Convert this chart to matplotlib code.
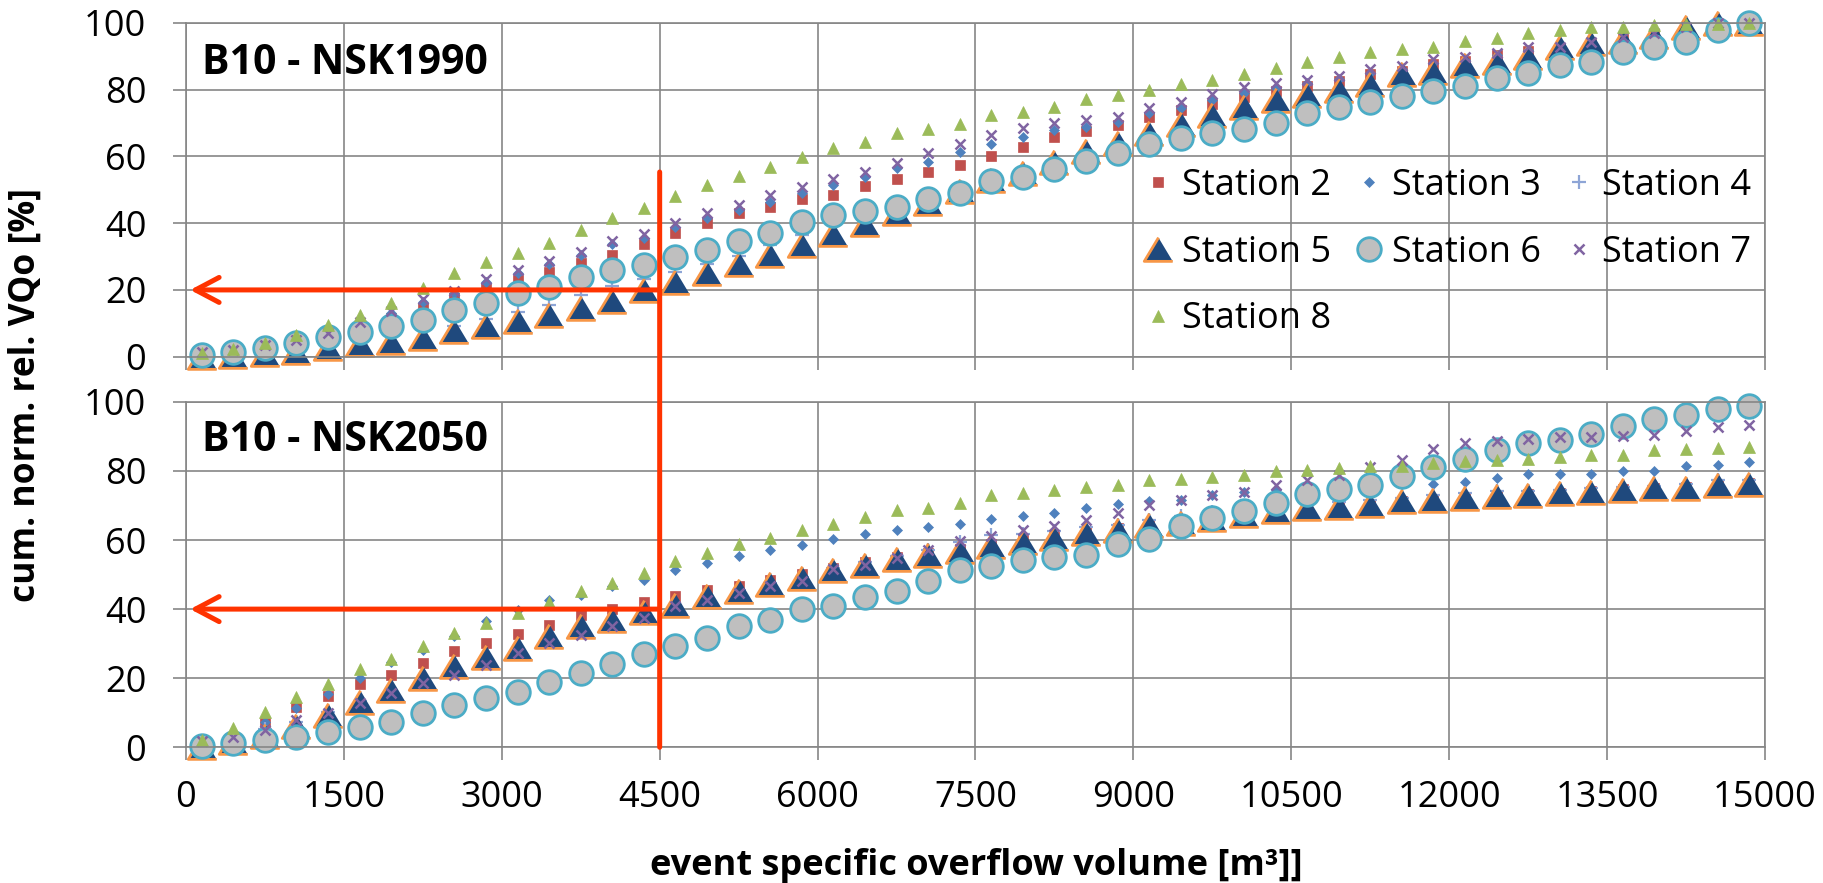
import matplotlib
matplotlib.use("Agg")

import matplotlib.pyplot as plt  # noqa: E402
from matplotlib.patches import ConnectionPatch  # noqa: E402

plt.rcParams["font.family"] = ["Open Sans", "DejaVu Sans"]

# event specific overflow volume [m3] (class centres)
volume = [150, 450, 750, 1050, 1350, 1650, 1950, 2250, 2550, 2850,
          3150, 3450, 3750, 4050, 4350, 4650, 4950, 5250, 5550, 5850,
          6150, 6450, 6750, 7050, 7350, 7650, 7950, 8250, 8550, 8850,
          9150, 9450, 9750, 10050, 10350, 10650, 10950, 11250, 11550, 11850,
          12150, 12450, 12750, 13050, 13350, 13650, 13950, 14250, 14550, 14850]

stations = ["Station 2", "Station 3", "Station 4", "Station 5",
            "Station 6", "Station 7", "Station 8"]

# --- B10 - NSK1990 -------------------------------------------------------
top_s2 = [1.0, 1.8, 3.0, 4.5, 6.5, 9.0, 11.5, 14.5, 17.5, 20.5, 23.0,
          25.5, 28.0, 30.5, 33.7, 37.0, 40.0,
          42.9, 44.9, 47.1, 48.4, 51.2, 53.2, 55.4, 57.5, 60.1, 62.7, 65.7, 67.7, 69.4, 71.9, 73.9,
          75.8, 77.8, 79.5, 81.0, 82.5, 84.5, 85.5, 87.5, 88.5, 90.3, 91.5, 92.0, 93.5, 95.0, 96.5, 98.5, 99.5, 100.0]
top_s3 = [1.2, 1.8, 3.2, 4.6, 6.8, 10.0, 13.2, 16.5, 19.0, 22.3, 25.0, 27.8, 30.4, 33.6, 35.5, 38.8, 41.5,
          44.0, 46.4, 49.0, 51.5, 53.8, 56.5, 58.4, 61.4, 63.7, 65.7, 67.9, 68.9, 70.4, 72.9, 74.4,
          76.8, 79.0, 80.5, 81.8, 83.0, 85.0, 86.2, 88.0, 88.8, 90.2, 91.8, 92.2, 93.6, 95.0, 96.2, 98.2, 99.5, 100.0]
top_s4 = [0.3, 0.9, 1.8, 2.8, 4.3, 5.6, 7.0, 8.2, 9.3, 11.2, 13.5, 15.5, 18.5, 21.1, 23.4,
          25.4, 27.9, 30.1, 33.4, 36.4, 39.5, 41.8, 44.0, 46.6, 49.3, 52.8, 54.5, 57.2, 60.2, 62.4, 65.3, 67.6,
          69.6, 71.5, 73.4, 75.6, 77.2, 78.9, 81.2, 82.4, 84.1, 85.8, 87.4, 90.0, 91.0, 92.9, 94.4, 96.5, 98.8, 100.0]
top_s5 = [0.0, 0.3, 0.8, 1.3, 2.5, 3.7, 4.5, 5.7, 7.7, 9.3, 10.7, 12.5, 14.5, 16.7, 20.0,
          22.5, 25.0, 27.9, 30.4, 33.4, 36.6, 39.8, 42.9, 46.0, 49.5, 52.9, 55.0, 58.2, 61.6, 63.9, 66.9, 69.8,
          72.4, 74.9, 76.8, 78.3, 79.8, 81.5, 84.5, 85.3, 87.3, 88.3, 89.8, 92.8, 93.8, 94.5, 96.0, 98.8, 99.8, 100.0]
top_s6 = [0.5, 1.5, 2.7, 4.0, 5.8, 7.3, 9.2, 11.0, 14.0, 16.2, 19.0, 20.8, 24.0, 26.1, 27.4,
          29.9, 31.9, 34.7, 37.1, 40.4, 42.4, 43.7, 44.9, 47.1, 49.1, 52.7, 53.9, 56.1, 58.7, 60.9, 63.7, 65.6, 66.9,
          68.1, 70.1, 72.9, 74.7, 76.3, 78.0, 79.6, 81.0, 83.3, 85.0, 87.3, 88.3, 91.3, 92.8, 94.3, 97.8, 100.0]
top_s7 = [1.5, 2.0, 3.5, 5.0, 7.2, 10.5, 13.8, 17.2, 19.8, 23.2, 26.0, 28.7, 31.4, 34.7, 36.6, 40.0, 43.0,
          45.4, 48.4, 50.7, 53.1, 55.4, 57.9, 60.9, 63.7, 66.5, 68.6, 69.9, 70.9, 71.7, 74.4, 76.3,
          78.6, 80.8, 81.8, 82.8, 84.0, 86.0, 87.0, 89.0, 89.6, 91.0, 92.6, 92.8, 94.3, 95.6, 96.8, 98.8, 99.8, 100.0]
top_s8 = [1.0, 2.2, 4.0, 6.5, 9.5, 12.5, 16.0, 20.5, 25.2, 28.5, 31.1, 34.1, 38.0, 41.4, 44.5, 48.1, 51.4,
          54.1, 56.9, 59.7, 62.4, 64.4, 67.1, 68.1, 69.6, 72.4, 73.4, 74.9, 77.1, 78.5, 79.8, 81.5,
          82.8, 84.6, 86.3, 88.3, 89.8, 91.3, 92.1, 92.8, 94.6, 95.3, 97.0, 97.8, 98.6, 98.8, 99.3, 99.6, 99.6, 99.8]

# --- B10 - NSK2050 -------------------------------------------------------
bot_s2 = [0.7, 3.1, 7.0, 11.6, 14.9, 18.4, 21.0, 24.3, 28.0, 30.3, 32.9, 35.5, 38.4, 40.0, 42.2, 43.7, 45.6,
          46.8, 48.5, 50.2, 52.0, 53.5, 55.0, 56.2, 57.5, 58.8, 60.0, 61.2, 62.4, 63.5, 64.7, 65.6,
          66.5, 67.6, 68.6, 69.4, 69.9, 70.3, 71.3, 71.8, 72.4, 73.0, 73.3, 73.7, 74.2, 74.8, 75.1, 75.3, 76.1, 76.4]
bot_s3 = [1.6, 4.0, 7.4, 11.3, 15.5, 20.0, 24.8, 28.2, 32.1, 36.7, 39.8, 42.5, 44.2, 46.6, 48.5, 51.2, 53.3,
          55.5, 57.0, 58.5, 60.3, 61.7, 63.0, 63.7, 64.6, 66.2, 66.9, 67.8, 69.3, 70.4, 71.2, 71.7,
          73.1, 73.8, 74.6, 75.1, 75.6, 76.0, 76.3, 76.3, 76.7, 78.0, 79.2, 79.2, 79.2, 79.9, 79.9, 81.5, 81.8, 82.5]
bot_s4 = [1.5, 2.6, 5.2, 7.4, 10.3, 13.5, 16.2, 19.0, 21.8, 24.6, 27.8, 30.8, 33.4, 35.8, 38.0, 41.2, 43.5,
          45.6, 47.5, 49.2, 51.8, 53.5, 55.5, 57.2, 59.3, 61.5, 61.7, 62.5, 63.7, 64.4, 65.9, 67.0,
          68.0, 68.8, 69.8, 70.4, 71.0, 71.7, 72.2, 73.1, 73.6, 74.1, 74.3, 74.4, 75.1, 75.4, 75.7, 76.2, 77.3, 77.3]
bot_s5 = [0.0, 1.4, 3.3, 6.2, 9.4, 13.2, 16.6, 20.2, 23.4, 26.0, 28.7, 32.1, 35.0, 36.9, 39.3, 41.3, 43.7,
          45.1, 47.3, 49.0, 51.2, 52.9, 54.5, 55.6, 56.9, 58.4, 59.5, 60.7, 62.0, 63.0, 64.3, 65.0,
          66.1, 67.3, 68.4, 69.2, 69.6, 70.0, 71.2, 71.6, 72.2, 72.8, 73.1, 73.5, 74.0, 74.6, 75.0, 75.1, 76.0, 76.3]
bot_s6 = [0.4, 1.2, 2.1, 3.1, 4.5, 6.0, 7.4, 10.0, 12.3, 14.2, 16.1, 18.8, 21.6, 24.2, 27.0, 29.2, 31.6,
          35.0, 36.9, 40.0, 41.0, 43.4, 45.1, 48.0, 51.4, 52.6, 54.1, 55.0, 55.7, 58.9, 60.3, 64.1,
          66.4, 68.3, 70.7, 73.4, 74.8, 76.0, 78.5, 81.2, 83.6, 86.2, 88.1, 89.1, 90.8, 93.1, 95.1, 96.3, 98.0, 98.7]
bot_s7 = [1.9, 2.9, 5.0, 7.9, 9.9, 12.9, 15.7, 18.6, 21.0, 23.9, 27.2, 30.1, 32.6, 35.0, 37.4, 40.8, 42.7,
          44.6, 46.8, 48.0, 51.6, 52.9, 54.8, 57.0, 59.6, 61.3, 62.8, 64.0, 65.9, 67.8, 70.0, 71.5,
          73.1, 73.8, 76.0, 77.3, 78.9, 81.2, 83.1, 86.4, 88.1, 88.6, 89.3, 89.9, 89.9, 90.0, 90.5, 91.5, 92.8, 93.4]
bot_s8 = [2.1, 5.5, 10.3, 14.5, 18.4, 22.6, 25.5, 29.4, 33.2, 35.9, 38.8, 42.2, 45.1, 47.7, 50.4, 53.8, 56.2,
          58.9, 60.6, 62.8, 64.7, 66.7, 68.6, 69.3, 70.7, 72.9, 73.6, 74.6, 75.4, 76.0, 77.5, 77.7,
          78.3, 78.9, 79.9, 80.4, 80.9, 81.4, 81.4, 82.3, 82.8, 83.3, 83.5, 84.0, 84.7, 84.7, 86.0, 86.4, 86.7, 87.0]

x_ticks = [0, 1500, 3000, 4500, 6000, 7500, 9000, 10500, 12000, 13500, 15000]
y_ticks = [0, 20, 40, 60, 80, 100]

# reading aid: threshold volume and resulting shares
mark_volume = 4500
mark_top_end = 55.3
mark_share_1990 = 20
mark_share_2050 = 40

# marker styles (Excel 2007 palette)
styles = [
    dict(marker="s", ms=6.5, mfc="#C0504D", mec="#C0504D", mew=0.5),
    dict(marker="D", ms=5.5, mfc="#4F81BD", mec="#4F81BD", mew=0.5),
    dict(marker="+", ms=10, mfc="none", mec="#8EA5D6", mew=1.6),
    dict(marker=[(0, 1), (-1.2, -1), (1.2, -1)], ms=20.5, mfc="#1F497D", mec="#F79646", mew=2.0),
    dict(marker="o", ms=17, mfc="#BFBFBF", mec="#4BACC6", mew=2.0),
    dict(marker="x", ms=7, mfc="none", mec="#8064A2", mew=1.8),
    dict(marker="^", ms=8, mfc="#9BBB59", mec="#9BBB59", mew=0.5),
]

GRID = "#868686"
RED = "#FF3300"
TICK_FS = 26

fig = plt.figure(figsize=(18.23, 8.83), dpi=100)
ax1 = fig.add_axes([0.1020, 0.5960, 0.8662, 0.3783])
ax2 = fig.add_axes([0.1020, 0.1537, 0.8662, 0.3912])

panels = [
    (ax1, [top_s2, top_s3, top_s4, top_s5, top_s6, top_s7, top_s8], "B10 - NSK1990", 84.6),
    (ax2, [bot_s2, bot_s3, bot_s4, bot_s5, bot_s6, bot_s7, bot_s8], "B10 - NSK2050", 85.9),
]

handles = []
for ax, series, title, title_y in panels:
    ax.set_xlim(0, 15000)
    ax.set_ylim(0, 100)
    ax.set_xticks(x_ticks)
    ax.set_yticks(y_ticks)
    ax.grid(True, color=GRID, lw=1.2)
    ax.set_axisbelow(True)
    for sp in ax.spines.values():
        sp.set_color(GRID)
        sp.set_linewidth(1.2)
    ax.tick_params(axis="both", direction="out", length=9.5, width=1.2, color=GRID,
                   labelsize=TICK_FS, labelcolor="black")
    ax.tick_params(axis="y", pad=19)
    ax.tick_params(axis="x", pad=14)
    hs = []
    for name, vals, st in zip(stations, series, styles):
        (ln,) = ax.plot(volume, vals, ls="none", label=name, clip_on=False, **st)
        hs.append(ln)
    if not handles:
        handles = hs
    ax.text(148, title_y, title, fontsize=29.5, fontweight="bold", va="baseline", ha="left")

ax1.tick_params(axis="x", labelbottom=False)

# red reading lines
arrow_kw = dict(arrowstyle="->,head_length=0.85,head_width=0.45", lw=3.6, color=RED,
                mutation_scale=20, shrinkA=0, shrinkB=0)
ax1.annotate("", xy=(40, mark_share_1990), xytext=(mark_volume, mark_share_1990),
             arrowprops=arrow_kw, zorder=10)
ax2.annotate("", xy=(40, mark_share_2050), xytext=(mark_volume, mark_share_2050),
             arrowprops=arrow_kw, zorder=10)
vline = ConnectionPatch(xyA=(mark_volume, mark_top_end), coordsA=ax1.transData,
                        xyB=(mark_volume, 0), coordsB=ax2.transData,
                        color=RED, lw=3.6, zorder=10)
fig.add_artist(vline)

# legend filled row-wise: 3 columns of [3, 2, 2] entries
order = [0, 3, 6, 1, 4, 2, 5]
ax1.legend([handles[i] for i in order], [stations[i] for i in order],
           ncol=3, frameon=False, fontsize=26, loc="upper left",
           bbox_to_anchor=(1140 / 1823, 1 - 168 / 883), bbox_transform=fig.transFigure,
           borderpad=0, borderaxespad=0, handlelength=1.0, handletextpad=0.15,
           columnspacing=0.55, labelspacing=0.85)

fig.text(0.0143, 0.5527, "cum. norm. rel. VQo [%]", rotation=90, fontsize=25.5,
         fontweight="bold", ha="center", va="center")
fig.text(0.5354, 0.019, "event specific overflow volume [m³]]", fontsize=26,
         fontweight="bold", ha="center", va="center")

fig.savefig("out.png", dpi=100)
